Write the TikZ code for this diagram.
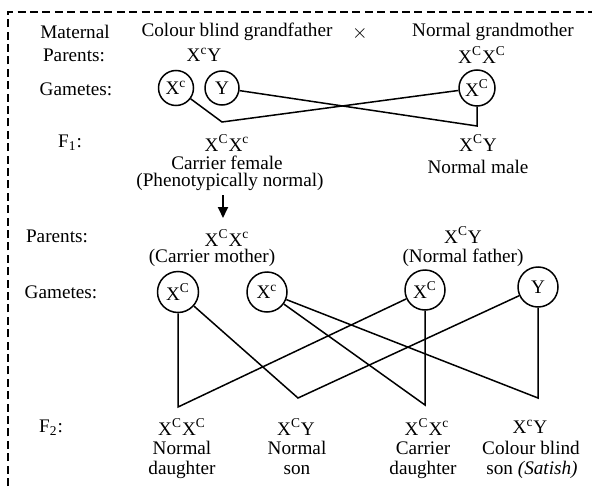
\documentclass[tikz,border=0pt]{standalone}
\usepackage{fontspec}
\setmainfont{Liberation Serif}
\usetikzlibrary{arrows.meta}
\newcommand{\gXC}{X\textsuperscript{C}}
\newcommand{\gXc}{X\textsuperscript{c}}
\begin{document}
\begin{tikzpicture}[x=0.5pt,y=-0.5pt,
  font=\fontsize{9.6}{11}\selectfont,
  lbl/.style={inner sep=0pt},
  gam/.style={circle,draw,line width=0.75pt,inner sep=0pt,minimum size=#1},
  link/.style={line width=0.75pt,line join=miter},
  border/.style={line width=0.65pt,dash pattern=on 4pt off 2.2pt},
  downarrow/.style={line width=0.9pt,-{Triangle[length=5.5pt,width=5pt]}}]
\useasboundingbox (0,0) rectangle (592,486);
\fill[white] (0,0) rectangle (592,486);
% border
\coordinate (bl) at (8,486);
\coordinate (tl) at (8,12);
\coordinate (tr) at (592,12);
\draw[border] (bl) -- (tl) -- (tr);

% top row labels
\node[lbl] (mat) at (75,32) {Maternal};
\node[lbl] (par1) at (74,55) {Parents:};
\node[lbl] (gam1) at (76,89) {Gametes:};
\node[lbl] (f1) at (70,143) {F\textsubscript{1}:};
\node[lbl] (cbg) at (237,32) {Colour blind grandfather};
\node[lbl] (cross) at (360,34) {$\times$};
\node[lbl] (ngm) at (493,32) {Normal grandmother};
\node[lbl] (gf) at (204,55) {\gXc Y};
\node[lbl] (gm) at (482,55) {\gXC\gXC};

% F1 gametes
\node[gam=17.5pt] (gc) at (176,88) {\gXc};
\node[gam=17pt] (gY) at (222,88) {Y};
\node[gam=18pt] (gC) at (477,88) {\gXC};
\coordinate (f1a) at (222,122);
\coordinate (f1b) at (477,126);
\draw[link] (gc) -- (f1a) -- (gC);
\draw[link] (gY) -- (f1b) -- (gC);

% F1 offspring
\node[lbl] (f1f) at (227,143) {\gXC\gXc};
\node[lbl] (f1m) at (478,143) {\gXC Y};
\node[lbl] (cf) at (227,163) {Carrier female};
\node[lbl] (pheno) at (230,182) {(Phenotypically normal)};
\node[lbl] (nm) at (478,167) {Normal male};
\coordinate (ar1) at (223,195);
\coordinate (ar2) at (223,218);
\draw[downarrow] (ar1) -- (ar2);

% second parents
\node[lbl] (par2) at (57,236) {Parents:};
\node[lbl] (mo) at (227,238) {\gXC\gXc};
\node[lbl] (cm) at (212,258) {(Carrier mother)};
\node[lbl] (fa) at (463,235) {\gXC Y};
\node[lbl] (nf) at (463,258) {(Normal father)};
\node[lbl] (gam2) at (61,292) {Gametes:};

\node[gam=20.5pt] (mC) at (178,292) {\gXC};
\node[gam=20pt] (mc) at (267,292) {\gXc};
\node[gam=20pt] (fC) at (425,290) {\gXC};
\node[gam=20pt] (fY) at (538,287) {Y};

\coordinate (d1) at (178,407);
\coordinate (s1) at (298,398);
\coordinate (d2) at (425,405);
\coordinate (s2) at (538,398);
\draw[link] (mC) -- (d1) -- (fC);
\draw[link] (mC) -- (s1) -- (fY);
\draw[link] (mc) -- (d2) -- (fC);
\draw[link] (mc) -- (s2) -- (fY);

% F2
\node[lbl] (f2) at (51,428) {F\textsubscript{2}:};
\node[lbl] (o1) at (182,427) {\gXC\gXC};
\node[lbl] (o1a) at (182,448) {Normal};
\node[lbl] (o1b) at (182,470) {daughter};
\node[lbl] (o2) at (296,427) {\gXC Y};
\node[lbl] (o2a) at (297,448) {Normal};
\node[lbl] (o2b) at (297,470) {son};
\node[lbl] (o3) at (427,427) {\gXC\gXc};
\node[lbl] (o3a) at (423,448) {Carrier};
\node[lbl] (o3b) at (423,470) {daughter};
\node[lbl] (o4) at (530,427) {\gXc Y};
\node[lbl] (o4a) at (531,448) {Colour blind};
\node[lbl] (o4b) at (532,470) {son \textit{(Satish)}};
\end{tikzpicture}
\end{document}
